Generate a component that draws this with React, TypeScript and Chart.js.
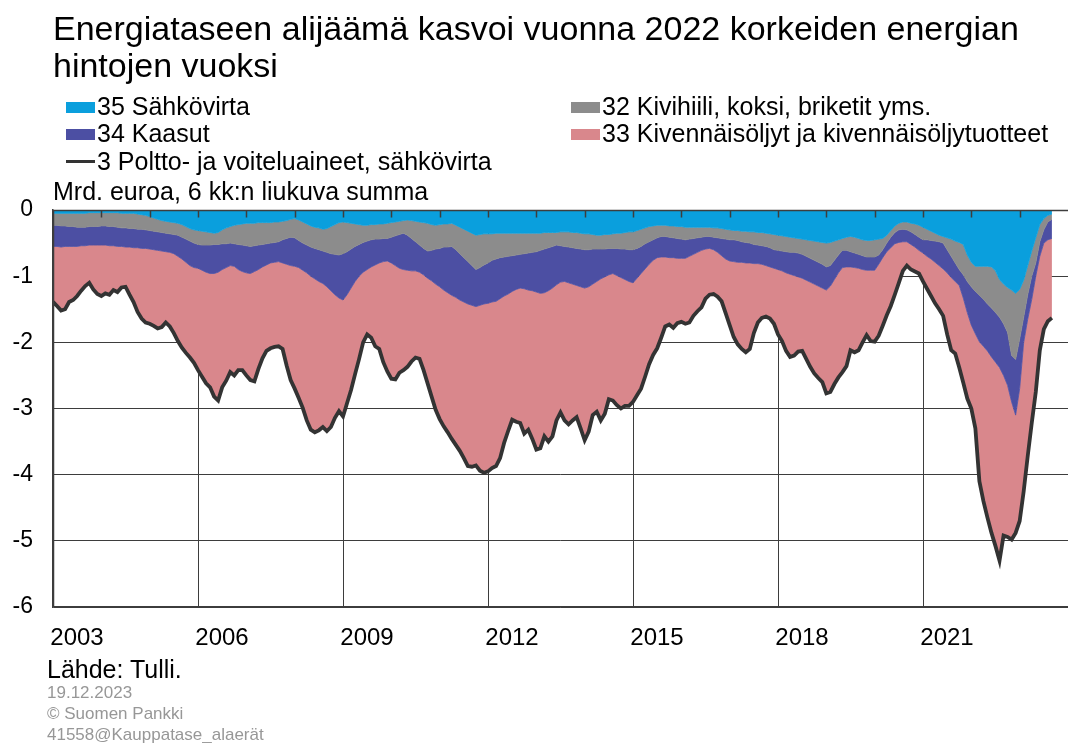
import React, { useEffect, useRef } from 'react';
import { Chart, registerables } from 'chart.js';

Chart.register(...registerables);

// ---- Data: monthly, Jan 2003 ... Sep 2023 (bn EUR, 6-month rolling sum) ----
const START_YEAR = 2003;

const sahkovirta = [
  -0.05,-0.05,-0.05,-0.05,-0.05,-0.05,-0.05,-0.05,-0.05,-0.04,-0.04,-0.04,
  -0.04,-0.04,-0.04,-0.04,-0.04,-0.05,-0.05,-0.05,-0.05,-0.06,-0.07,-0.08,
  -0.10,-0.12,-0.14,-0.16,-0.17,-0.18,-0.19,-0.20,-0.22,-0.25,-0.28,-0.30,
  -0.31,-0.32,-0.33,-0.34,-0.35,-0.34,-0.30,-0.27,-0.25,-0.23,-0.22,-0.21,
  -0.20,-0.20,-0.20,-0.19,-0.19,-0.19,-0.19,-0.18,-0.18,-0.17,-0.16,-0.14,
  -0.13,-0.15,-0.18,-0.21,-0.24,-0.26,-0.27,-0.29,-0.28,-0.25,-0.22,-0.19,
  -0.18,-0.19,-0.20,-0.21,-0.22,-0.23,-0.23,-0.22,-0.22,-0.21,-0.21,-0.20,
  -0.19,-0.18,-0.17,-0.16,-0.15,-0.16,-0.17,-0.18,-0.19,-0.20,-0.22,-0.23,
  -0.22,-0.21,-0.21,-0.20,-0.23,-0.26,-0.29,-0.32,-0.35,-0.38,-0.37,-0.36,
  -0.36,-0.36,-0.35,-0.35,-0.35,-0.35,-0.35,-0.35,-0.35,-0.35,-0.35,-0.35,
  -0.35,-0.35,-0.34,-0.34,-0.34,-0.34,-0.33,-0.33,-0.33,-0.34,-0.34,-0.35,
  -0.36,-0.36,-0.37,-0.38,-0.38,-0.37,-0.37,-0.36,-0.35,-0.35,-0.34,-0.33,
  -0.33,-0.31,-0.29,-0.27,-0.25,-0.24,-0.23,-0.23,-0.23,-0.24,-0.24,-0.25,
  -0.25,-0.26,-0.26,-0.26,-0.26,-0.26,-0.26,-0.26,-0.27,-0.27,-0.28,-0.29,
  -0.30,-0.31,-0.31,-0.32,-0.32,-0.33,-0.33,-0.34,-0.34,-0.35,-0.36,-0.37,
  -0.38,-0.39,-0.40,-0.41,-0.42,-0.43,-0.44,-0.45,-0.46,-0.47,-0.48,-0.49,
  -0.50,-0.49,-0.47,-0.45,-0.43,-0.41,-0.40,-0.41,-0.43,-0.45,-0.46,-0.46,
  -0.45,-0.44,-0.43,-0.38,-0.31,-0.24,-0.20,-0.18,-0.18,-0.20,-0.21,-0.23,
  -0.26,-0.29,-0.32,-0.35,-0.38,-0.40,-0.42,-0.44,-0.47,-0.49,-0.52,-0.68,
  -0.79,-0.85,-0.85,-0.85,-0.85,-0.86,-0.92,-1.05,-1.12,-1.17,-1.21,-1.26,
  -1.20,-1.06,-0.84,-0.62,-0.42,-0.22,-0.13,-0.08,-0.06,
];

const kivihiili = [
  -0.18,-0.18,-0.19,-0.19,-0.20,-0.20,-0.21,-0.21,-0.21,-0.21,-0.21,-0.21,
  -0.20,-0.20,-0.21,-0.21,-0.22,-0.22,-0.22,-0.23,-0.23,-0.23,-0.22,-0.22,
  -0.21,-0.20,-0.19,-0.18,-0.18,-0.18,-0.18,-0.18,-0.19,-0.19,-0.19,-0.20,
  -0.21,-0.21,-0.20,-0.19,-0.17,-0.18,-0.21,-0.24,-0.25,-0.28,-0.30,-0.32,
  -0.34,-0.35,-0.34,-0.34,-0.33,-0.32,-0.31,-0.31,-0.30,-0.28,-0.27,-0.27,
  -0.29,-0.31,-0.32,-0.32,-0.32,-0.32,-0.33,-0.33,-0.36,-0.41,-0.45,-0.49,
  -0.48,-0.44,-0.39,-0.34,-0.30,-0.26,-0.24,-0.23,-0.22,-0.23,-0.22,-0.23,
  -0.22,-0.21,-0.20,-0.19,-0.23,-0.27,-0.31,-0.35,-0.39,-0.42,-0.39,-0.36,
  -0.36,-0.35,-0.35,-0.35,-0.37,-0.40,-0.43,-0.46,-0.49,-0.52,-0.50,-0.47,
  -0.44,-0.40,-0.39,-0.37,-0.36,-0.35,-0.34,-0.33,-0.32,-0.31,-0.30,-0.29,
  -0.28,-0.26,-0.25,-0.23,-0.21,-0.19,-0.21,-0.22,-0.23,-0.23,-0.24,-0.24,
  -0.24,-0.24,-0.22,-0.21,-0.21,-0.22,-0.21,-0.22,-0.23,-0.24,-0.25,-0.27,
  -0.27,-0.27,-0.26,-0.24,-0.23,-0.21,-0.19,-0.17,-0.17,-0.17,-0.18,-0.18,
  -0.19,-0.19,-0.18,-0.17,-0.16,-0.15,-0.14,-0.14,-0.14,-0.15,-0.15,-0.15,
  -0.15,-0.14,-0.15,-0.16,-0.17,-0.17,-0.19,-0.19,-0.20,-0.20,-0.21,-0.23,
  -0.23,-0.23,-0.23,-0.23,-0.22,-0.22,-0.23,-0.25,-0.27,-0.29,-0.31,-0.33,
  -0.36,-0.35,-0.29,-0.23,-0.18,-0.20,-0.23,-0.24,-0.24,-0.24,-0.25,-0.25,
  -0.26,-0.24,-0.17,-0.12,-0.10,-0.10,-0.10,-0.11,-0.12,-0.13,-0.16,-0.18,
  -0.19,-0.16,-0.14,-0.12,-0.10,-0.10,-0.18,-0.26,-0.33,-0.41,-0.46,-0.40,
  -0.37,-0.38,-0.44,-0.50,-0.57,-0.62,-0.63,-0.57,-0.60,-0.68,-0.99,-1.00,
  -0.75,-0.56,-0.44,-0.38,-0.38,-0.26,-0.17,-0.10,-0.08,
];

const kaasut = [
  -0.32,-0.32,-0.32,-0.31,-0.30,-0.30,-0.29,-0.28,-0.28,-0.28,-0.28,-0.28,
  -0.29,-0.29,-0.29,-0.29,-0.29,-0.28,-0.29,-0.28,-0.29,-0.28,-0.29,-0.28,
  -0.28,-0.28,-0.28,-0.28,-0.28,-0.28,-0.29,-0.32,-0.33,-0.35,-0.37,-0.37,
  -0.36,-0.38,-0.41,-0.43,-0.44,-0.42,-0.39,-0.36,-0.34,-0.34,-0.38,-0.40,
  -0.41,-0.41,-0.39,-0.37,-0.34,-0.32,-0.30,-0.30,-0.30,-0.35,-0.39,-0.43,
  -0.43,-0.41,-0.41,-0.42,-0.44,-0.46,-0.48,-0.49,-0.52,-0.56,-0.61,-0.65,
  -0.70,-0.65,-0.59,-0.53,-0.48,-0.45,-0.43,-0.41,-0.39,-0.36,-0.35,-0.34,
  -0.39,-0.45,-0.51,-0.55,-0.53,-0.49,-0.44,-0.41,-0.40,-0.41,-0.46,-0.53,
  -0.58,-0.65,-0.69,-0.74,-0.72,-0.70,-0.67,-0.64,-0.60,-0.56,-0.57,-0.59,
  -0.61,-0.63,-0.64,-0.62,-0.59,-0.57,-0.54,-0.52,-0.51,-0.53,-0.56,-0.58,
  -0.61,-0.65,-0.66,-0.65,-0.63,-0.60,-0.55,-0.53,-0.54,-0.55,-0.56,-0.57,
  -0.58,-0.56,-0.53,-0.49,-0.45,-0.42,-0.40,-0.38,-0.41,-0.43,-0.46,-0.48,
  -0.50,-0.45,-0.41,-0.38,-0.34,-0.31,-0.30,-0.31,-0.31,-0.31,-0.30,-0.30,
  -0.29,-0.28,-0.26,-0.24,-0.22,-0.20,-0.19,-0.18,-0.19,-0.22,-0.26,-0.30,
  -0.32,-0.33,-0.33,-0.31,-0.31,-0.30,-0.29,-0.28,-0.28,-0.29,-0.29,-0.28,
  -0.29,-0.30,-0.32,-0.33,-0.35,-0.36,-0.36,-0.36,-0.36,-0.36,-0.36,-0.36,
  -0.35,-0.31,-0.29,-0.27,-0.26,-0.25,-0.23,-0.22,-0.21,-0.21,-0.20,-0.20,
  -0.20,-0.14,-0.12,-0.13,-0.16,-0.17,-0.19,-0.19,-0.18,-0.19,-0.19,-0.20,
  -0.20,-0.25,-0.28,-0.32,-0.36,-0.39,-0.35,-0.32,-0.28,-0.24,-0.35,-0.47,
  -0.58,-0.64,-0.70,-0.71,-0.71,-0.74,-0.75,-0.76,-0.78,-0.80,-0.70,-0.84,
  -0.75,-0.38,-0.37,-0.35,-0.20,-0.22,-0.20,-0.27,-0.29,
];

const oljyt = [
  -0.84,-0.90,-0.96,-0.95,-0.84,-0.81,-0.75,-0.68,-0.61,-0.57,-0.67,-0.74,
  -0.77,-0.73,-0.74,-0.67,-0.69,-0.62,-0.60,-0.72,-0.82,-0.97,-1.06,-1.12,
  -1.13,-1.15,-1.18,-1.15,-1.07,-1.12,-1.20,-1.28,-1.34,-1.37,-1.39,-1.44,
  -1.54,-1.61,-1.68,-1.72,-1.86,-1.94,-1.78,-1.71,-1.61,-1.65,-1.52,-1.49,
  -1.55,-1.61,-1.66,-1.50,-1.38,-1.30,-1.29,-1.28,-1.28,-1.30,-1.53,-1.73,
  -1.85,-1.97,-2.08,-2.23,-2.32,-2.32,-2.25,-2.17,-2.18,-2.06,-1.86,-1.71,
  -1.76,-1.64,-1.54,-1.40,-1.25,-1.06,-0.98,-1.07,-1.23,-1.30,-1.52,-1.67,
  -1.75,-1.72,-1.58,-1.52,-1.46,-1.37,-1.31,-1.31,-1.44,-1.59,-1.75,-1.90,
  -2.00,-2.06,-2.11,-2.17,-2.23,-2.28,-2.36,-2.45,-2.44,-2.40,-2.50,-2.55,
  -2.54,-2.51,-2.49,-2.41,-2.22,-2.07,-1.94,-2.00,-2.04,-2.19,-2.11,-2.24,
  -2.38,-2.34,-2.17,-2.28,-2.24,-2.05,-1.97,-2.10,-2.14,-2.06,-1.99,-2.14,
  -2.30,-2.19,-1.98,-1.97,-2.14,-2.07,-1.88,-1.92,-1.96,-1.98,-1.91,-1.88,
  -1.80,-1.77,-1.74,-1.63,-1.51,-1.43,-1.37,-1.22,-1.05,-1.01,-1.06,-0.98,
  -0.96,-0.99,-1.00,-0.93,-0.89,-0.86,-0.75,-0.70,-0.67,-0.67,-0.69,-0.82,
  -0.97,-1.14,-1.24,-1.31,-1.35,-1.30,-1.05,-0.89,-0.81,-0.77,-0.78,-0.84,
  -0.98,-1.06,-1.18,-1.25,-1.21,-1.13,-1.10,-1.19,-1.28,-1.35,-1.39,-1.42,
  -1.56,-1.60,-1.58,-1.58,-1.58,-1.50,-1.26,-1.28,-1.24,-1.10,-0.98,-1.07,
  -1.08,-1.08,-1.03,-0.96,-0.88,-0.77,-0.61,-0.44,-0.36,-0.38,-0.37,-0.35,
  -0.43,-0.49,-0.56,-0.62,-0.66,-0.71,-0.93,-1.10,-1.09,-1.24,-1.28,-1.30,
  -1.26,-1.43,-2.11,-2.34,-2.52,-2.66,-2.78,-2.92,-2.42,-2.29,-2.08,-1.78,
  -2.00,-2.25,-2.07,-1.87,-1.75,-1.42,-1.30,-1.23,-1.20,
];

const polttoJaSahko = [
  -1.39,-1.45,-1.52,-1.50,-1.39,-1.36,-1.30,-1.22,-1.15,-1.10,-1.20,-1.27,
  -1.30,-1.26,-1.28,-1.21,-1.24,-1.17,-1.16,-1.28,-1.39,-1.54,-1.64,-1.70,
  -1.72,-1.75,-1.79,-1.77,-1.70,-1.76,-1.86,-1.98,-2.08,-2.16,-2.23,-2.31,
  -2.42,-2.52,-2.62,-2.68,-2.82,-2.88,-2.68,-2.58,-2.45,-2.50,-2.42,-2.42,
  -2.50,-2.57,-2.59,-2.40,-2.24,-2.13,-2.09,-2.07,-2.06,-2.10,-2.35,-2.57,
  -2.70,-2.84,-2.99,-3.18,-3.32,-3.36,-3.33,-3.28,-3.34,-3.28,-3.14,-3.04,
  -3.12,-2.92,-2.72,-2.48,-2.25,-2.00,-1.88,-1.93,-2.06,-2.10,-2.30,-2.44,
  -2.55,-2.56,-2.46,-2.42,-2.37,-2.29,-2.23,-2.25,-2.42,-2.62,-2.82,-3.02,
  -3.16,-3.27,-3.36,-3.46,-3.55,-3.64,-3.75,-3.87,-3.88,-3.86,-3.94,-3.97,
  -3.95,-3.90,-3.87,-3.75,-3.52,-3.34,-3.17,-3.20,-3.22,-3.38,-3.32,-3.46,
  -3.62,-3.60,-3.42,-3.50,-3.42,-3.18,-3.06,-3.18,-3.24,-3.18,-3.13,-3.30,
  -3.48,-3.35,-3.10,-3.05,-3.18,-3.08,-2.86,-2.88,-2.95,-3.00,-2.96,-2.96,
  -2.90,-2.80,-2.70,-2.52,-2.33,-2.19,-2.09,-1.93,-1.76,-1.73,-1.78,-1.71,
  -1.69,-1.72,-1.70,-1.60,-1.53,-1.47,-1.34,-1.28,-1.27,-1.31,-1.38,-1.56,
  -1.74,-1.92,-2.03,-2.10,-2.15,-2.10,-1.86,-1.70,-1.63,-1.61,-1.64,-1.72,
  -1.88,-1.98,-2.13,-2.22,-2.20,-2.14,-2.13,-2.25,-2.37,-2.47,-2.54,-2.60,
  -2.77,-2.75,-2.63,-2.53,-2.45,-2.36,-2.12,-2.15,-2.12,-2.00,-1.89,-1.98,
  -1.99,-1.90,-1.75,-1.59,-1.45,-1.28,-1.10,-0.92,-0.84,-0.90,-0.93,-0.96,
  -1.08,-1.19,-1.30,-1.41,-1.50,-1.60,-1.88,-2.12,-2.17,-2.38,-2.61,-2.85,
  -3.00,-3.30,-4.10,-4.40,-4.65,-4.88,-5.08,-5.30,-4.92,-4.94,-4.98,-4.88,
  -4.70,-4.25,-3.72,-3.22,-2.75,-2.12,-1.80,-1.68,-1.63,
];

const yTickValues = [0, -1, -2, -3, -4, -5, -6];
const xTickYears = [2003, 2006, 2009, 2012, 2015, 2018, 2021];
const X_MAX_YEAR = 2024;

const seriesLabels = {
  sahko: '35 Sähkövirta',
  hiili: '32 Kivihiili, koksi, briketit yms.',
  kaasu: '34 Kaasut',
  oljy: '33 Kivennäisöljyt ja kivennäisöljytuotteet',
  total: '3 Poltto- ja voiteluaineet, sähkövirta',
};

const titleLines = ['Energiataseen alijäämä kasvoi vuonna 2022 korkeiden energian', 'hintojen vuoksi'];
const unitText = 'Mrd. euroa, 6 kk:n liukuva summa';
const sourceText = 'Lähde: Tulli.';
const footerLines = ['19.12.2023', '© Suomen Pankki', '41558@Kauppatase_alaerät'];

// ---- Styles ----
const FONT = "'Liberation Sans', Arial, Helvetica, sans-serif";
const C_SAHKO = '#0A9FDD';
const C_HIILI = '#8C8C8C';
const C_KAASU = '#4C4FA3';
const C_OLJY = '#D9878C';
const C_LINE = '#333333';
const C_GRID = '#3d3d3d';

const TITLE_SIZE = 34;
const TEXT_SIZE = 25;

const toPoints = (arr: number[]) => arr.map((v, i) => ({ x: START_YEAR + i / 12, y: v }));

// top of a text line box so that its baseline lands at `baseline`
const textTop = (baseline: number, size: number, lh: number) =>
  baseline - (lh - 1.117 * size) / 2 - 0.905 * size;

const framePlugin = {
  id: 'frameAndYearTicks',
  afterDatasetsDraw(chart: any) {
    const { ctx, chartArea: a, scales } = chart;
    const x = scales.x;
    const y = scales.y;
    const y0 = Math.round(y.getPixelForValue(0)) + 0.5;
    ctx.save();
    ctx.strokeStyle = C_GRID;
    ctx.lineWidth = 1.5;
    ctx.beginPath();
    ctx.moveTo(a.left, y0);
    ctx.lineTo(a.right, y0);
    ctx.moveTo(a.left + 0.5, a.top);
    ctx.lineTo(a.left + 0.5, a.bottom);
    for (let yr = Math.ceil(x.min) + 1; yr < x.max; yr++) {
      const px = Math.round(x.getPixelForValue(yr)) + 0.5;
      ctx.moveTo(px, y0);
      ctx.lineTo(px, y0 + 7);
    }
    ctx.stroke();
    ctx.restore();
  },
};

export default function App() {
  const canvasRef = useRef<HTMLCanvasElement | null>(null);

  useEffect(() => {
    document.body.style.margin = '0';
    const canvas = canvasRef.current;
    if (!canvas) return;
    const areaDs = (label: string, data: number[], color: string, fill: any) => ({
      label,
      data: toPoints(data),
      backgroundColor: color,
      borderColor: color,
      borderWidth: 0.8,
      fill,
      pointRadius: 0,
      pointHoverRadius: 0,
      tension: 0,
      stack: 'areas',
      order: 1,
    });
    const chart = new Chart(canvas, {
      type: 'line',
      data: {
        datasets: [
          areaDs(seriesLabels.sahko, sahkovirta, C_SAHKO, 'origin'),
          areaDs(seriesLabels.hiili, kivihiili, C_HIILI, '-1'),
          areaDs(seriesLabels.kaasu, kaasut, C_KAASU, '-1'),
          areaDs(seriesLabels.oljy, oljyt, C_OLJY, '-1'),
          {
            label: seriesLabels.total,
            data: toPoints(polttoJaSahko),
            borderColor: C_LINE,
            backgroundColor: C_LINE,
            borderWidth: 3.8,
            fill: false,
            pointRadius: 0,
            pointHoverRadius: 0,
            tension: 0,
            stack: 'total',
            order: 0,
          },
        ],
      },
      options: {
        responsive: false,
        animation: false,
        events: [],
        layout: { padding: { top: 210, bottom: 86, left: 0, right: 0 } },
        plugins: {
          legend: { display: false },
          title: { display: false },
          tooltip: { enabled: false },
        },
        scales: {
          x: {
            type: 'linear',
            min: START_YEAR,
            max: X_MAX_YEAR,
            afterBuildTicks: (scale: any) => {
              scale.ticks = xTickYears.map((v) => ({ value: v }));
            },
            afterFit: (scale: any) => {
              scale.height = 50;
            },
            grid: { color: C_GRID, lineWidth: 1, drawTicks: false },
            border: { display: true, color: C_GRID, width: 1.5 },
            ticks: {
              autoSkip: false,
              maxRotation: 0,
              padding: 17,
              labelOffset: 24,
              color: '#000',
              font: { family: FONT, size: 24 },
              callback: (v: any) => String(v),
            },
          },
          y: {
            type: 'linear',
            stacked: true,
            min: -6,
            max: 0,
            afterBuildTicks: (scale: any) => {
              scale.ticks = yTickValues.map((v) => ({ value: v }));
            },
            afterFit: (scale: any) => {
              scale.width = 53;
            },
            grid: { color: C_GRID, lineWidth: 1, drawTicks: false },
            border: { display: true, color: C_GRID, width: 1.5 },
            ticks: {
              padding: 20,
              color: '#000',
              font: { family: FONT, size: 23 },
              callback: (v: any) => String(v),
            },
          },
        },
      } as any,
      plugins: [framePlugin],
    });
    return () => chart.destroy();
  }, []);

  const legendText = (left: number, baseline: number, text: string) => (
    <div
      style={{
        position: 'absolute',
        left,
        top: textTop(baseline, TEXT_SIZE, 28),
        fontSize: TEXT_SIZE,
        lineHeight: '28px',
        whiteSpace: 'nowrap',
        color: '#000',
      }}
    >
      {text}
    </div>
  );
  const swatch = (left: number, baseline: number, color: string) => (
    <div
      style={{
        position: 'absolute',
        left,
        top: baseline - 13,
        width: 29,
        height: 11,
        background: color,
      }}
    />
  );

  return (
    <div
      style={{
        position: 'relative',
        width: 1068,
        height: 743,
        overflow: 'hidden',
        background: '#fff',
        fontFamily: FONT,
      }}
    >
      <canvas
        ref={canvasRef}
        width={1068}
        height={743}
        style={{ position: 'absolute', left: 0, top: 0, width: 1068, height: 743 }}
      />
      <div
        style={{
          position: 'absolute',
          left: 53,
          top: textTop(40, TITLE_SIZE, 37),
          fontSize: TITLE_SIZE,
          lineHeight: '37px',
          color: '#000',
          whiteSpace: 'nowrap',
        }}
      >
        {titleLines[0]}
        <br />
        {titleLines[1]}
      </div>

      {swatch(66, 115, C_SAHKO)}
      {legendText(97, 115, seriesLabels.sahko)}
      {swatch(66, 142, C_KAASU)}
      {legendText(97, 142, seriesLabels.kaasu)}
      <div
        style={{ position: 'absolute', left: 66, top: 160, width: 29, height: 3, background: C_LINE }}
      />
      {legendText(97, 170, seriesLabels.total)}

      {swatch(571, 115, C_HIILI)}
      {legendText(602, 115, seriesLabels.hiili)}
      {swatch(571, 142, C_OLJY)}
      {legendText(602, 142, seriesLabels.oljy)}

      <div
        style={{
          position: 'absolute',
          left: 53,
          top: textTop(200, TEXT_SIZE, 28),
          fontSize: TEXT_SIZE,
          lineHeight: '28px',
          whiteSpace: 'nowrap',
          color: '#000',
        }}
      >
        {unitText}
      </div>

      <div
        style={{
          position: 'absolute',
          left: 47,
          top: textTop(678, TEXT_SIZE, 28),
          fontSize: TEXT_SIZE,
          lineHeight: '28px',
          whiteSpace: 'nowrap',
          color: '#000',
        }}
      >
        {sourceText}
      </div>
      <div
        style={{
          position: 'absolute',
          left: 47,
          top: textTop(698.5, 17, 21),
          fontSize: 17,
          lineHeight: '21px',
          whiteSpace: 'nowrap',
          color: '#979797',
        }}
      >
        {footerLines.map((l, i) => (
          <div key={i}>{l}</div>
        ))}
      </div>
    </div>
  );
}
